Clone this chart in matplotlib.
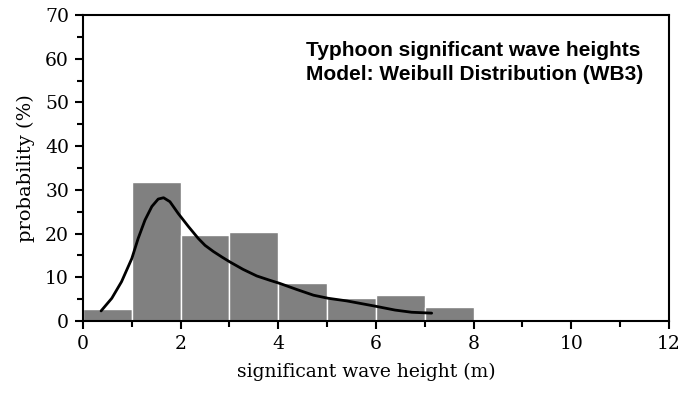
import matplotlib.pyplot as plt
import numpy as np

# histogram of significant wave heights (bin width 1 m)
bin_left = np.arange(0, 12)
prob = [2.7, 31.8, 19.7, 20.4, 8.7, 5.3, 6.0, 3.2, 0.0, 0.0, 0.4, 0.4]

# fitted Weibull (WB3) curve
fit_x = [0.37, 0.59, 0.79, 1.0, 1.13, 1.27, 1.41, 1.54, 1.65, 1.78, 1.95,
         2.16, 2.36, 2.5, 2.67, 2.85, 3.01, 3.28, 3.56, 3.83, 4.03, 4.38, 4.72,
         5.02, 5.4, 5.98, 6.39, 6.73, 7.14]
fit_y = [2.3, 5.2, 9.0, 14.3, 18.9, 23.1, 26.2, 27.9, 28.2, 27.3, 24.6,
         21.6, 18.9, 17.3, 15.9, 14.6, 13.5, 11.8, 10.3, 9.3, 8.6, 7.2, 5.9,
         5.2, 4.6, 3.4, 2.5, 2.0, 1.8]

serif = ["DejaVu Serif"]

fig = plt.figure(figsize=(6.83, 3.96), dpi=100)
ax = fig.add_axes([0.1215, 0.1894, 0.858, 0.7726])

ax.bar(bin_left, prob, width=1, align="edge", color="#808080",
       edgecolor="white", linewidth=1.0)
ax.plot(fit_x, fit_y, color="black", linewidth=2.0,
        solid_joinstyle="round", solid_capstyle="round")

ax.set(xlim=(0, 12), ylim=(0, 70),
       xticks=np.arange(0, 13, 2), yticks=np.arange(0, 71, 10))
ax.set_xticks(np.arange(0, 13, 1), minor=True)
ax.set_yticks(np.arange(0, 71, 5), minor=True)
ax.tick_params(which="both", direction="out", width=1.5, top=False, right=False)
ax.tick_params(which="major", length=6, labelsize=13.5, pad=4)
ax.tick_params(which="minor", length=4)
for lab in ax.get_xticklabels() + ax.get_yticklabels():
    lab.set_family(serif)
for sp in ax.spines.values():
    sp.set_linewidth(1.5)

ax.set_xlabel("significant wave height (m)", family=serif, fontsize=13.5, labelpad=11)
ax.set_ylabel("probability (%)", family=serif, fontsize=14, labelpad=7)
ax.xaxis.set_label_coords(0.483, -0.135)

ax.text(0.38, 0.915, "Typhoon significant wave heights\nModel: Weibull Distribution (WB3)",
        transform=ax.transAxes, family="Liberation Sans", fontweight="bold",
        fontsize=15, va="top", ha="left", linespacing=1.3)

plt.savefig("out.png")
